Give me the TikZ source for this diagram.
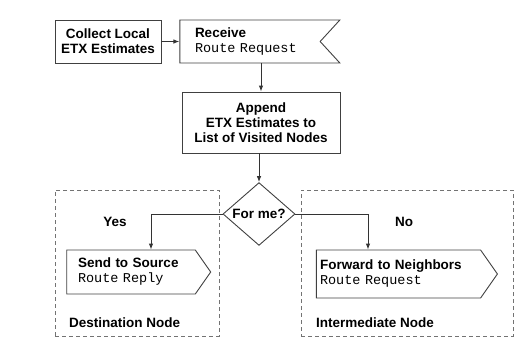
\documentclass[tikz,border=0pt]{standalone}
\usepackage{fontspec}
\setmainfont{Liberation Sans}
\setmonofont{Liberation Mono}
\usetikzlibrary{shapes.geometric, shapes.symbols, arrows.meta, positioning}

\begin{document}
\begin{tikzpicture}[x=1pt, y=-1pt,
        every node/.style={font=\fontsize{13.5}{15}\selectfont\bfseries, align=center, inner sep=0pt},
        box/.style={rectangle, draw=black!75, line width=0.9pt},
        sigout/.style={signal, signal to=east, signal pointer angle=110, draw=black!75, line width=0.9pt, align=left},
        sigin/.style={signal, signal to=nowhere, signal from=east, signal pointer angle=95, draw=black!75, line width=0.9pt, align=left},
        decision/.style={diamond, draw=black!75, line width=0.9pt, minimum width=72pt, minimum height=48pt},
        group/.style={rectangle, draw=black!55, dash pattern=on 4pt off 3pt, line width=0.8pt},
        arr/.style={-{Latex[length=6pt, width=4.5pt]}, line width=0.9pt, black!80},
        lbl/.style={anchor=west}
    ]
        \useasboundingbox (0,0) rectangle (522,338);

        % Dashed areas for the two node roles
        \node[group, minimum width=164pt, minimum height=146pt] (dest)  at (137,263) {};
        \node[group, minimum width=212pt, minimum height=146pt] (inter) at (407,263) {};
        \node[lbl] (destlbl)  at (69,323)  {Destination Node};
        \node[lbl] (interlbl) at (316,323) {Intermediate Node};

        % Main flow
        \node[box, minimum width=106pt, minimum height=43pt] (collect) at (108,41.5) {Collect Local\\ETX Estimates};
        \node[sigin, minimum width=160pt, minimum height=43pt, text width=110pt] (recv) at (250,41.5)
            {Receive\\{\mdseries\ttfamily Route Request}};
        \node[box, minimum width=158pt, minimum height=61pt] (append) at (261,122.5)
            {Append\\ETX Estimates to\\List of Visited Nodes};
        \node[decision] (dec) at (259,214) {For me?};

        % Outcomes
        \node[sigout, minimum width=144pt, minimum height=44pt, text width=106pt] (send) at (131,272)
            {Send to Source\\{\mdseries\ttfamily Route Reply}};
        \node[sigout, minimum width=181pt, minimum height=48pt, text width=157pt] (fwd) at (398.5,274)
            {Forward to Neighbors\\{\mdseries\ttfamily Route Request}};
        \node (yes) at (115,222) {Yes};
        \node (no)  at (404,222) {No};

        % Arrows
        \draw[arr] (collect) -- (recv);
        \draw[arr] (recv.south -| append.north) -- (append.north);
        \draw[arr] (append.south -| dec.north) -- (dec.north);
        \draw[arr] (dec.west) -| ([xshift=20pt]send.north);
        \draw[arr] (dec.east) -| ([xshift=-30.5pt]fwd.north);
    \end{tikzpicture}
\end{document}
